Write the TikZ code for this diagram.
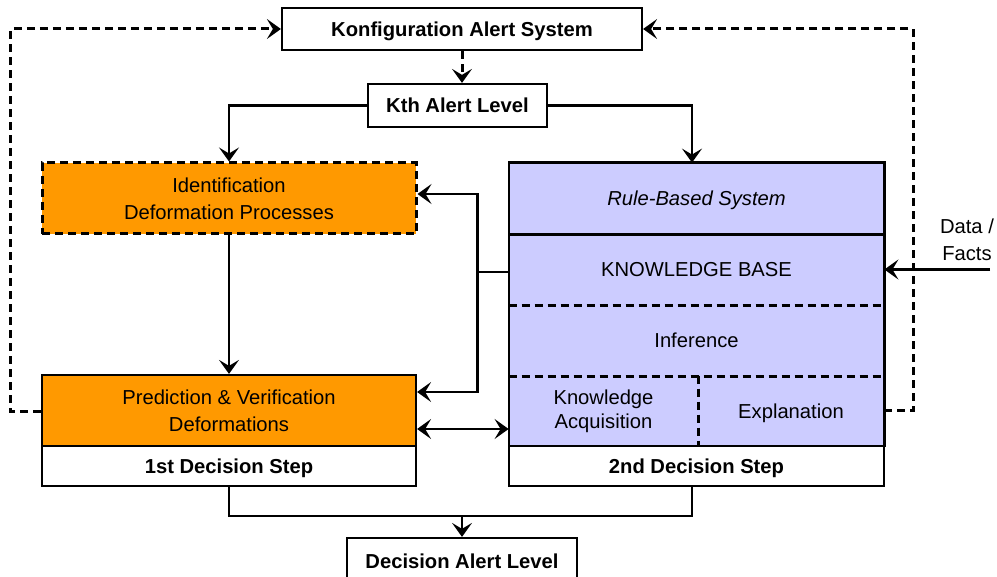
\documentclass[tikz,border=0pt]{standalone}
\usepackage{fontspec}
\setmainfont{Liberation Sans}
\usetikzlibrary{arrows.meta,calc}
\definecolor{orng}{RGB}{255,153,0}
\definecolor{lav}{RGB}{204,204,255}
\tikzset{
  every node/.style={font=\fontsize{10.1}{13.5}\selectfont, align=center, inner sep=0pt},
  box/.style={draw, line width=1.1pt, rectangle},
  cell/.style={rectangle, fill=lav, minimum width=187.5pt, minimum height=35.5pt},
  oneline/.style={text height=7.2pt, text depth=0pt},
  tipa/.style={-{Stealth[length=7pt,width=10pt,inset=3pt]}},
  arr/.style={line width=1.3pt, tipa},
  dasharr/.style={line width=1.5pt, dash pattern=on 4pt off 2.5pt, tipa},
  dblarr/.style={line width=1.3pt, {Stealth[length=7pt,width=10pt,inset=3pt]}-{Stealth[length=7pt,width=10pt,inset=3pt]}},
  dline/.style={line width=1.5pt, dash pattern=on 4pt off 2.5pt},
  bnode/.style={font=\bfseries\fontsize{10.1}{12}\selectfont, oneline},
}
\begin{document}
\begin{tikzpicture}[x=0.5pt,y=-0.5pt]
\useasboundingbox (0,0) rectangle (997,577);
% top boxes
\node[box, minimum width=180pt, minimum height=21pt, bnode] (konf) at (462,29) {Konfiguration Alert System};
\node[box, minimum width=89.5pt, minimum height=21.5pt, bnode] (kth) at (457.5,105.5) {Kth Alert Level};
% left column
\node[box, dline, fill=orng, minimum width=187pt, minimum height=35.5pt] (ident) at (229,198.5) {Identification\\Deformation Processes};
\node[box, fill=orng, minimum width=187pt, minimum height=35.5pt] (pred) at (229,410.5) {Prediction \& Verification\\Deformations};
\node[box, fill=white, minimum width=187pt, minimum height=20pt, bnode] (step1) at (229,466) {1st Decision Step};
% rule-based system
\node[cell, oneline] (rhead) at (696.5,198.5) {\itshape Rule-Based System};
\node[cell, oneline] (kb) at (696.5,269.5) {KNOWLEDGE BASE};
\node[cell, oneline] (inf) at (696.5,340.5) {Inference};
\node[cell, minimum width=94.5pt, minimum height=35pt, font=\fontsize{10.1}{12}\selectfont] (kacq) at (603.5,411) {Knowledge\\Acquisition};
\node[cell, oneline, minimum width=93pt, minimum height=35pt] (expl) at (791,411) {Explanation};
\node[box, fill=white, minimum width=187.5pt, minimum height=20pt, bnode] (step2) at (696.5,466) {2nd Decision Step};
\draw[line width=1.1pt] (rhead.north west) rectangle (expl.south east);
\draw[line width=1.3pt] (rhead.south west) -- (rhead.south east);
\draw[dline] (kb.south west) -- (kb.south east);
\draw[dline] (inf.south west) -- (inf.south east);
\draw[dline] (kacq.north east) -- (kacq.south east);
% decision alert level
\node[box, minimum width=115pt, minimum height=23pt, bnode] (dal) at (462,561) {Decision Alert Level};
% data / facts
\node (data) at (967,240) {Data /\\Facts};
\coordinate (din) at (990,269.5);
% connectors
\draw[dasharr] (konf.south) -- (konf.south |- kth.north);
\draw[arr] (kth.west) -| (ident.north);
\draw[arr] (kth.east) -| ([xshift=-2.25pt]rhead.north);
\draw[arr] (ident.south) -- (pred.north);
\draw[line width=1.3pt] ([yshift=-1.25pt]kb.west) -- ++(-31,0) coordinate (j);
\draw[arr] (j) |- ([yshift=2.25pt]ident.east);
\draw[arr] (j) |- ([yshift=9.25pt]pred.east);
\draw[dblarr] ([yshift=-9.25pt]pred.east) -- ([yshift=-9pt]kacq.west);
\draw[dasharr] ([yshift=-0.75pt]pred.west) -- ++(-30,0) |- (konf.west);
\draw[dasharr] (expl.east) -- ++(29,0) |- (konf.east);
\draw[arr] (din) -- (kb.east);
\coordinate (bj) at (462,516);
\draw[line width=0.9pt] (step1.south) |- (bj) -| ([xshift=-2.25pt]step2.south);
\draw[arr] (bj) -- (dal.north);
\end{tikzpicture}
\end{document}
